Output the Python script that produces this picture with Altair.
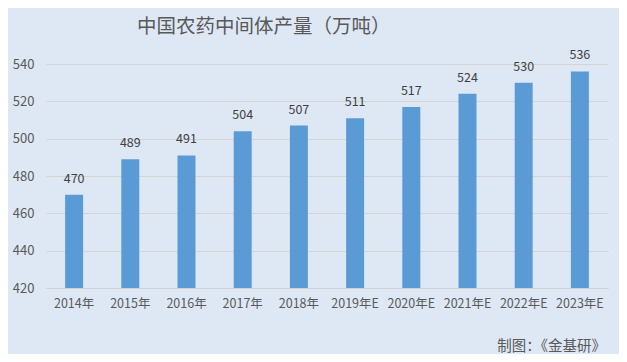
import altair as alt
import pandas as pd

years = ["2014年", "2015年", "2016年", "2017年", "2018年",
         "2019年E", "2020年E", "2021年E", "2022年E", "2023年E"]
values = [470, 489, 491, 504, 507, 511, 517, 524, 530, 536]
y_ticks = [420, 440, 460, 480, 500, 520, 540]
title_text = "中国农药中间体产量（万吨）"
footer_text = "制图：《金基研》"

df = pd.DataFrame({"year": years, "value": values})

FONT = "Noto Sans CJK SC"
GRAY = "#595959"

x = alt.X("year:N", sort=years, title=None,
          scale=alt.Scale(paddingInner=0.68, paddingOuter=0.34),
          axis=alt.Axis(labelAngle=0, labelFont=FONT, labelFontSize=12.5,
                        labelColor=GRAY, ticks=False, domainColor="#d0d0d0",
                        labelPadding=9, labelOverlap=False))
y = alt.Y("value:Q", title=None,
          scale=alt.Scale(domain=[420, 540], zero=False, nice=False),
          axis=alt.Axis(values=y_ticks, tickCount=7, labelFont=FONT,
                        labelFontSize=13, labelColor=GRAY, ticks=False,
                        domain=False, gridColor="#d4d4d4", labelPadding=12,
                        labelOverlap=False))

base = alt.Chart(df)
bars = base.mark_bar(color="#5b9bd5").encode(x=x, y=y, y2=alt.datum(420))
labels = base.mark_text(dy=-9, font=FONT, fontSize=12.5, color="#404040",
                        baseline="bottom").encode(x=x, y=y, text="value:Q")

title = alt.Chart(pd.DataFrame({"t": [title_text]})).mark_text(
    font=FONT, fontSize=19.5, color=GRAY, align="left", baseline="middle"
).encode(x=alt.value(91), y=alt.value(-37), text="t:N")

footer = alt.Chart(pd.DataFrame({"t": [footer_text]})).mark_text(
    font=FONT, fontSize=14.5, color=GRAY, align="right", baseline="middle"
).encode(x=alt.value(560), y=alt.value(283), text="t:N")

chart = alt.layer(bars, labels, title, footer).properties(
    width=562, height=224,
    background="#dee8f4",
    padding={"left": 38, "top": 56, "right": 11, "bottom": 66},
    autosize=alt.AutoSizeParams(type="none"),
).configure_view(stroke=None)

chart.save("out.html", embed_options={"renderer": "svg", "actions": False})
